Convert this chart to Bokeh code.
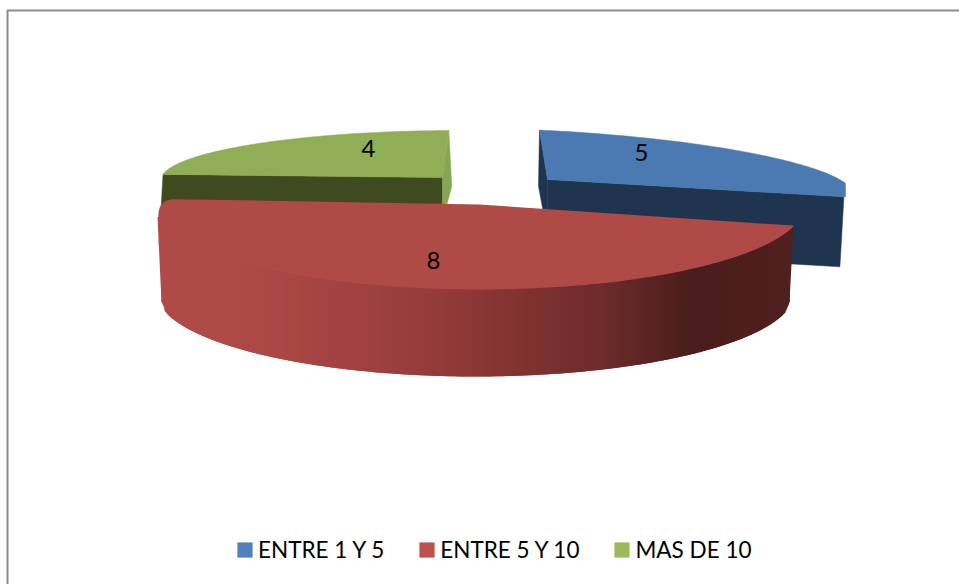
import math
import numpy as np
from bokeh.embed import file_html
from bokeh.resources import INLINE
from bokeh.plotting import figure
from bokeh.models import Range1d, Legend, LegendItem
from bokeh.core.properties import value

CATEGORIES = ["ENTRE 1 Y 5", "ENTRE 5 Y 10", "MAS DE 10"]
VALUES = [5, 8, 4]
LEGEND_COLORS = ["#4F81BD", "#C0504D", "#9BBB59"]
TOP_COLORS = ["#4A7AB1", "#AF4A47", "#90AE55"]
FACE_COLORS = ["#1F344E", "#AF4A47", "#404A21"]
INNER_COLORS = ["#1F344E", "#AF4A47", "#87A653"]

START = -1.5
# projected disc of every exploded slice: page-pixel layout, not data
GEOM = [
    dict(cx=547, cy=179, a=306, b=49, blow=10, sx=0.0, sy=0.05, depth=70, xmin=0, xmax=845, lab=(94, -27)),
    dict(cx=479, cy=204, a=325, b=85, sx=0.0, sy=0.0, depth=89, xmin=157, xmax=793, lean=0.054, lean_y=215, lab=(-46, 56)),
    dict(cx=442, cy=177, a=281, b=47, sx=-0.29, sy=0.0, depth=70, xmin=0, xmax=959, lab=(-74, -29)),
]
RED_BOTTOM = dict(cx=475, cy=291, a=320, b=85, xmin=161, xmax=789, sx=0, sy=0)
BOTTOM_CORNER = 10
RED_RAMP = [(157, (175, 74, 71)), (240, (175, 74, 71)), (400, (154, 63, 61)), (480, (138, 55, 53)),
            (600, (110, 44, 43)), (690, (74, 29, 28)), (793, (81, 33, 32))]

total = sum(VALUES)
angles = []
t = START
for v in VALUES:
    angles.append((t, t + 360.0 * v / total))
    t = angles[-1][1]


def rim(g, th):
    r = math.radians(th)
    c = math.cos(r)
    b = g["b"] if c >= 0 else g.get("blow", g["b"])
    dx, dy = g["a"] * math.sin(r), -b * c
    x = g["cx"] + dx + g["sx"] * dy
    y = g["cy"] + dy + g["sy"] * dx
    low = g["xmin"] + g.get("lean", 0) * max(0.0, y - g.get("lean_y", y))
    return min(max(x, low), g["xmax"]), y


def span(t0, t1, n):
    return [t0 + (t1 - t0) * k / n for k in range(n + 1)]


def ramp(x):
    for (x0, c0), (x1, c1) in zip(RED_RAMP, RED_RAMP[1:]):
        if x <= x1:
            f = max(0.0, (x - x0) / (x1 - x0))
            return "#%02x%02x%02x" % tuple(int(c0[k] + (c1[k] - c0[k]) * f) for k in range(3))
    return "#512120"


def edge_by_x(curve, g):
    kept = sorted(q for q in curve if g["xmin"] + 3 < q[0] < g["xmax"] - 3)
    return [q[0] for q in kept], [q[1] for q in kept]


p = figure(width=959, height=584, x_range=Range1d(0, 959), y_range=Range1d(584, 0),
           output_backend="svg", toolbar_location=None, min_border=0, outline_line_color=None)
p.xaxis.visible = False
p.yaxis.visible = False
p.grid.visible = False

# frame: only its top and left edges lie inside the picture
p.line([7, 7, 959], [584, 10, 10], line_color="#8C8C8C", line_width=2)


def flat_slice(i):
    g, (t0, t1) = GEOM[i], angles[i]
    d = g["depth"]
    pts = [rim(g, th) for th in span(t0, t1, 80)]
    C = (g["cx"], g["cy"])
    open_end = pts[-1] if i == 0 else pts[0]
    inner_end = pts[0] if i == 0 else pts[-1]
    fx = [C[0], open_end[0], open_end[0] - 4, C[0]]
    fy = [C[1], open_end[1], open_end[1] + d, C[1] + d]
    p.patch(fx, fy, fill_color=FACE_COLORS[i], line_color=FACE_COLORS[i], line_width=0.5)
    bulge = -1 if i == 0 else 3
    ix = [inner_end[0], C[0], C[0], inner_end[0] + 3 * (1 if i == 0 else -1), inner_end[0] + bulge]
    iy = [inner_end[1], C[1], C[1] + d, inner_end[1] + d + 8, inner_end[1] + 0.8 * d]
    p.patch(ix, iy, fill_color=INNER_COLORS[i], line_color=INNER_COLORS[i], line_width=0.5)
    p.patch([C[0]] + [q[0] for q in pts], [C[1]] + [q[1] for q in pts],
            fill_color=TOP_COLORS[i], line_color=TOP_COLORS[i], line_width=0.5)


flat_slice(2)
flat_slice(0)

# red slice: shaded rim built from overlapping vertical strips, then its top
g = GEOM[1]
t0, t1 = angles[1]
E = rim(g, t1)
ROUND = 18

upper_x, upper_y = edge_by_x([rim(g, th) for th in span(t0, t1, 400) if math.cos(math.radians(th)) < 0], g)
lower_x, lower_y = edge_by_x([rim(RED_BOTTOM, th) for th in span(90, 270, 400)], RED_BOTTOM)
x_lo, x_hi = RED_BOTTOM["xmin"], RED_BOTTOM["xmax"]
lower_x = [x_lo] + lower_x + [x_hi]
lower_y = [lower_y[0] - BOTTOM_CORNER] + lower_y + [lower_y[-1] - BOTTOM_CORNER]
cuts = list(np.arange(x_lo, x_hi, 3.0)) + [x_hi]
xs, ys, cols = [], [], []
for k in range(len(cuts) - 1):
    x0, x1 = float(cuts[k]), float(cuts[min(k + 2, len(cuts) - 1)])
    # the upper edge reaches under the top face, which is painted afterwards
    xs.append([x0, x1, x1, x0])
    ys.append([float(np.interp(x0, upper_x, upper_y)) - 3, float(np.interp(x1, upper_x, upper_y)) - 3,
               float(np.interp(x1, lower_x, lower_y)), float(np.interp(x0, lower_x, lower_y))])
    cols.append(ramp(x0))
# thin wedges that carry the silhouette out to the top slice's corners
p.patch([g["xmin"], x_lo + 1, x_lo + 1, x_lo], [E[1] + ROUND, E[1] + ROUND, lower_y[0], lower_y[0]],
        fill_color=ramp(x_lo), line_color=None)
p.patch([g["xmax"], x_hi - 1, x_hi - 1, x_hi], [rim(g, t0)[1], rim(g, t0)[1], lower_y[-1], lower_y[-1]],
        fill_color=ramp(x_hi), line_color=None)
p.patches(xs, ys, fill_color=cols, line_color=None)

arc = [rim(g, th) for th in span(t0, t1, 200)]
arc = [q for q in arc if not (q[0] < g["cx"] and q[1] < E[1] + ROUND)]
C = (g["cx"], g["cy"])
corner_a = arc[-1]
L = math.hypot(C[0] - E[0], C[1] - E[1])
corner_b = (E[0] + (C[0] - E[0]) * ROUND / L, E[1] + (C[1] - E[1]) * ROUND / L)
for k in range(1, 13):
    f = k / 12
    arc.append(((1 - f) ** 2 * corner_a[0] + 2 * f * (1 - f) * E[0] + f * f * corner_b[0],
                (1 - f) ** 2 * corner_a[1] + 2 * f * (1 - f) * E[1] + f * f * corner_b[1]))
p.patch([C[0]] + [q[0] for q in arc], [C[1]] + [q[1] for q in arc],
        fill_color=TOP_COLORS[1], line_color=None)

# value labels
p.text([gg["cx"] + gg["lab"][0] for gg in GEOM], [gg["cy"] + gg["lab"][1] for gg in GEOM],
       text=[str(v) for v in VALUES], text_font=value("Lato"), text_font_size="24px",
       text_color="#000000", text_align="center", text_baseline="middle")

# legend
items = []
for name, col in zip(CATEGORIES, LEGEND_COLORS):
    r = p.quad(left=[float("nan")], right=[float("nan")], top=[float("nan")], bottom=[float("nan")],
               fill_color=col, line_color=None)
    items.append(LegendItem(label=value(name), renderers=[r]))
legend = Legend(items=items, orientation="horizontal", location=(235, 21),
                label_text_font="Lato", label_text_font_size="22.5px", label_text_color="#000000",
                glyph_width=19, glyph_height=19, label_standoff=4, spacing=33,
                border_line_color=None, background_fill_alpha=0, padding=0, margin=0)
p.add_layout(legend, "center")

open("out.html", "w").write(file_html(p, INLINE))
